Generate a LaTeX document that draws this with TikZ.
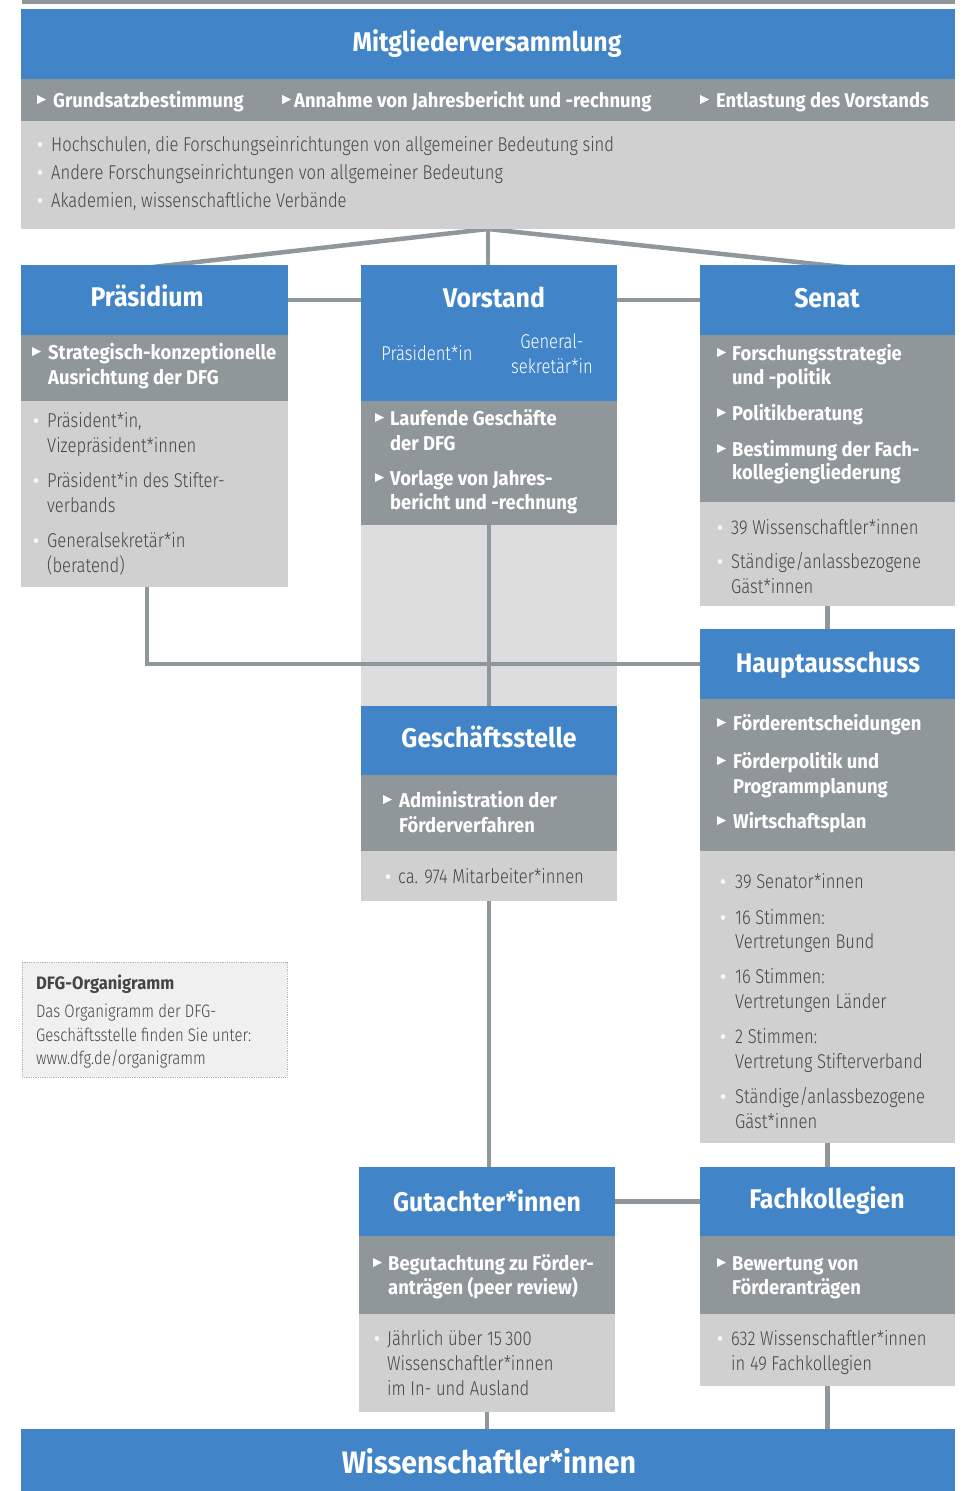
\documentclass[tikz,border=0pt]{standalone}
\usepackage{fontspec}
\setmainfont{Fira Sans Light}[FakeStretch=0.83]
\newfontfamily\headfont{Fira Sans}[FakeStretch=0.92]
\usetikzlibrary{calc}
\definecolor{dfgblue}{HTML}{4184C7}
\definecolor{dfgdark}{HTML}{8F979B}
\definecolor{dfglight}{HTML}{D0D0D0}
\definecolor{dfgpale}{HTML}{DDDDDD}
\definecolor{dfginfo}{HTML}{F0F0F0}
\definecolor{dfgtext}{HTML}{454545}
\tikzset{
	organigram/.is family,
	organigram/.cd,
	part/.style = {
		draw = none,
		inner sep = 0pt,
		outer sep = 0pt,
		anchor = north west,
	},
	head/.style = {organigram/part, fill = dfgblue},
	tasks/.style = {organigram/part, fill = dfgdark},
	members/.style = {organigram/part, fill = dfglight},
	title/.style = {
		text = white,
		inner sep = 0pt,
		anchor = base,
		font = \headfont\bfseries\fontsize{27}{31}\selectfont,
	},
	task/.style = {
		text = white,
		inner sep = 0pt,
		anchor = base west,
		font = \headfont\bfseries\fontsize{20}{24}\selectfont,
	},
	member/.style = {
		text = dfgtext,
		inner sep = 0pt,
		anchor = base west,
		font = \fontsize{20}{24}\selectfont,
	},
	link/.style = {
		draw = dfgdark,
		line width = 4.5pt,
	},
}
\pgfdeclarelayer{background}
\pgfsetlayers{background,main}

% #1 name, #2 x of the marker, #3 x of the text, #4 y/text/first line
\newcommand\tasklist[4]{%
	\foreach \y/\t/\f [count=\i] in {#4} {
		\node[organigram/task] (#1-\i) at (#3,\y) {\t};
		\ifnum\f=1 \fill[white] (#2,\y-12) -- (#2+9,\y-7.5) -- (#2,\y-3) -- cycle; \fi
	}%
}
\newcommand\memberlist[4]{%
	\foreach \y/\t/\f [count=\i] in {#4} {
		\node[organigram/member] (#1-\i) at (#3,\y) {\t};
		\ifnum\f=1 \fill[white!80!dfglight] (#2,\y-6.5) circle (2.4); \fi
	}%
}

\begin{document}
\begin{tikzpicture}[x = 1pt, y = -1pt]
	\useasboundingbox (0,0) rectangle (962,1491);
	\fill[dfgdark] (22,0) rectangle (955,4);

	% Mitgliederversammlung
	\node[organigram/head, minimum width = 934pt, minimum height = 70pt] (mv) at (21,9) {};
	\node[organigram/tasks, minimum width = 934pt, minimum height = 42pt] (mvtasks) at (mv.south west) {};
	\node[organigram/members, minimum width = 934pt, minimum height = 108pt] (mvmembers) at (mvtasks.south west) {};
	\node[organigram/title] (mv-title) at (487,51) {Mitgliederversammlung};
	\tasklist{mvt}{37}{53}{107/Grundsatzbestimmung/1}
	\tasklist{mvu}{282}{294}{107/Annahme von Jahresbericht und -rechnung/1}
	\tasklist{mvv}{700}{716}{107/Entlastung des Vorstands/1}
	\memberlist{mvm}{40}{51}{151/{Hochschulen, die Forschungseinrichtungen von allgemeiner Bedeutung sind}/1,
		179/Andere Forschungseinrichtungen von allgemeiner Bedeutung/1,
		207/{Akademien, wissenschaftliche Verbände}/1}

	% Praesidium
	\node[organigram/head, minimum width = 267pt, minimum height = 70pt] (praes) at (21,265) {};
	\node[organigram/tasks, minimum width = 267pt, minimum height = 66pt] (praestasks) at (praes.south west) {};
	\node[organigram/members, minimum width = 267pt, minimum height = 186pt] (praesmembers) at (praestasks.south west) {};
	\node[organigram/title] (praes-title) at (147,306) {Präsidium};
	\tasklist{praest}{32}{48}{359/Strategisch-konzeptionelle/1, 384/Ausrichtung der DFG/0}
	\memberlist{praesm}{36}{47}{427/{Präsident*in,}/1, 452/Vizepräsident*innen/0,
		487/Präsident*in des Stifter-/1, 512/verbands/0,
		547/Generalsekretär*in/1, 572/(beratend)/0}

	% Vorstand
	\node[organigram/head, minimum width = 256pt, minimum height = 136pt] (vorst) at (361,265) {};
	\node[organigram/tasks, minimum width = 256pt, minimum height = 124pt] (vorsttasks) at (vorst.south west) {};
	\node[organigram/title] (vorst-title) at (494,307) {Vorstand};
	\node[organigram/member, text = white, anchor = base] (vorst-p) at (427,360) {Präsident*in};
	\node[organigram/member, text = white, anchor = base] (vorst-g) at (552,348) {General-};
	\node[organigram/member, text = white, anchor = base] (vorst-s) at (552,373) {sekretär*in};
	\tasklist{vorstt}{375}{390}{425/Laufende Geschäfte/1, 450/der DFG/0,
		485/Vorlage von Jahres-/1, 509/bericht und -rechnung/0}

	% Senat
	\node[organigram/head, minimum width = 255pt, minimum height = 70pt] (senat) at (700,265) {};
	\node[organigram/tasks, minimum width = 255pt, minimum height = 167pt] (senattasks) at (senat.south west) {};
	\node[organigram/members, minimum width = 255pt, minimum height = 104pt] (senatmembers) at (senattasks.south west) {};
	\node[organigram/title] (senat-title) at (827,307) {Senat};
	\tasklist{senatt}{717}{732}{360/Forschungsstrategie/1, 384/und -politik/0,
		420/Politikberatung/1, 456/Bestimmung der Fach-/1, 479/kollegiengliederung/0}
	\memberlist{senatm}{720}{731}{534/39 Wissenschaftler*innen/1,
		568/{Ständige/anlassbezogene}/1, 593/Gäst*innen/0}

	% Hauptausschuss
	\node[organigram/head, minimum width = 255pt, minimum height = 70pt] (ha) at (700,629) {};
	\node[organigram/tasks, minimum width = 255pt, minimum height = 152pt] (hatasks) at (ha.south west) {};
	\node[organigram/members, minimum width = 255pt, minimum height = 292pt] (hamembers) at (hatasks.south west) {};
	\node[organigram/title] (ha-title) at (828,672) {Hauptausschuss};
	\tasklist{hat}{717}{733}{730/Förderentscheidungen/1, 768/Förderpolitik und/1,
		793/Programmplanung/0, 828/Wirtschaftsplan/1}
	\memberlist{ham}{723}{735}{888/39 Senator*innen/1,
		924/16 Stimmen:/1, 948/Vertretungen Bund/0,
		983/16 Stimmen:/1, 1008/Vertretungen Länder/0,
		1043/2 Stimmen:/1, 1068/Vertretung Stifterverband/0,
		1103/{Ständige/anlassbezogene}/1, 1128/Gäst*innen/0}

	% Geschaeftsstelle
	\node[organigram/head, minimum width = 256pt, minimum height = 69pt] (gs) at (361,706) {};
	\node[organigram/tasks, minimum width = 256pt, minimum height = 76pt] (gstasks) at (gs.south west) {};
	\node[organigram/members, minimum width = 256pt, minimum height = 50pt] (gsmembers) at (gstasks.south west) {};
	\node[organigram/title] (gs-title) at (489,747) {Geschäftsstelle};
	\tasklist{gst}{383}{399}{807/Administration der/1, 832/Förderverfahren/0}
	\memberlist{gsm}{388}{398}{883/ca. 974 Mitarbeiter*innen/1}

	% Gutachter*innen
	\node[organigram/head, minimum width = 256pt, minimum height = 69pt] (gut) at (359,1167) {};
	\node[organigram/tasks, minimum width = 256pt, minimum height = 78pt] (guttasks) at (gut.south west) {};
	\node[organigram/members, minimum width = 256pt, minimum height = 98pt] (gutmembers) at (guttasks.south west) {};
	\node[organigram/title] (gut-title) at (487,1211) {Gutachter*innen};
	\tasklist{gutt}{373}{388}{1270/Begutachtung zu Förder-/1, 1294/anträgen (peer review)/0}
	\memberlist{gutm}{377}{387}{1345/Jährlich über 15\,300/1, 1370/Wissenschaftler*innen/0,
		1395/im In- und Ausland/0}

	% Fachkollegien
	\node[organigram/head, minimum width = 255pt, minimum height = 69pt] (fk) at (700,1167) {};
	\node[organigram/tasks, minimum width = 255pt, minimum height = 78pt] (fktasks) at (fk.south west) {};
	\node[organigram/members, minimum width = 255pt, minimum height = 72pt] (fkmembers) at (fktasks.south west) {};
	\node[organigram/title] (fk-title) at (827,1208) {Fachkollegien};
	\tasklist{fkt}{717}{732}{1270/Bewertung von/1, 1294/Förderanträgen/0}
	\memberlist{fkm}{720}{731}{1345/632 Wissenschaftler*innen/1, 1370/in 49 Fachkollegien/0}

	% Wissenschaftler*innen
	\node[organigram/head, minimum width = 934pt, minimum height = 62pt] (wiss) at (21,1429) {};
	\node[organigram/title, font = \headfont\bfseries\fontsize{31}{35}\selectfont] (wiss-title) at (489,1473) {Wissenschaftler*innen};

	% hint box
	\node[organigram/part, fill = dfginfo, draw = dfgdark!70, densely dotted, line width = 0.8pt,
		minimum width = 265pt, minimum height = 115pt] (info) at (22,962) {};
	\node[organigram/member, font = \headfont\bfseries\fontsize{18}{22}\selectfont] (info-title) at (36,989) {DFG-Organigramm};
	\foreach \y/\t [count=\i] in {1017/Das Organigramm der DFG-, 1041/Geschäftsstelle finden Sie unter:,
		1064/{www.dfg.de/organigramm}}
		\node[organigram/member, font = \fontsize{18}{22}\selectfont] (info-\i) at (36,\y) {\t};

	\begin{pgfonlayer}{background}
		\node[organigram/part, fill = dfgpale, minimum width = 256pt, minimum height = 181pt] (vorstext) at (vorsttasks.south west) {};
		\coordinate (praes-in) at (100,273);
		\coordinate (senat-in) at (900,273);
		\draw[organigram/link] (mvmembers.south) -- (praes-in);
		\draw[organigram/link] (mvmembers.south) -- (senat-in);
		\draw[organigram/link] (mvmembers.south) -- (mvmembers.south |- vorst.north);
		\draw[organigram/link] (praes.east) -- (praes.east -| vorst.west);
		\draw[organigram/link] (senat.west) -- (senat.west -| vorst.east);
		\draw[organigram/link] (praesmembers.south -| praes-title) |- (ha.west);
		\draw[organigram/link] (vorsttasks.south -| gs.north) -- (gs.north);
		\draw[organigram/link] (gsmembers.south) -- (gsmembers.south |- gut.north);
		\draw[organigram/link] (senatmembers.south) -- (ha.north);
		\draw[organigram/link] (hamembers.south) -- (fk.north);
		\draw[organigram/link] (gut.east) -- (fk.west);
		\draw[organigram/link] (gutmembers.south) -- (gutmembers.south |- wiss.north);
		\draw[organigram/link] (fkmembers.south) -- (fkmembers.south |- wiss.north);
	\end{pgfonlayer}
\end{tikzpicture}
\end{document}
